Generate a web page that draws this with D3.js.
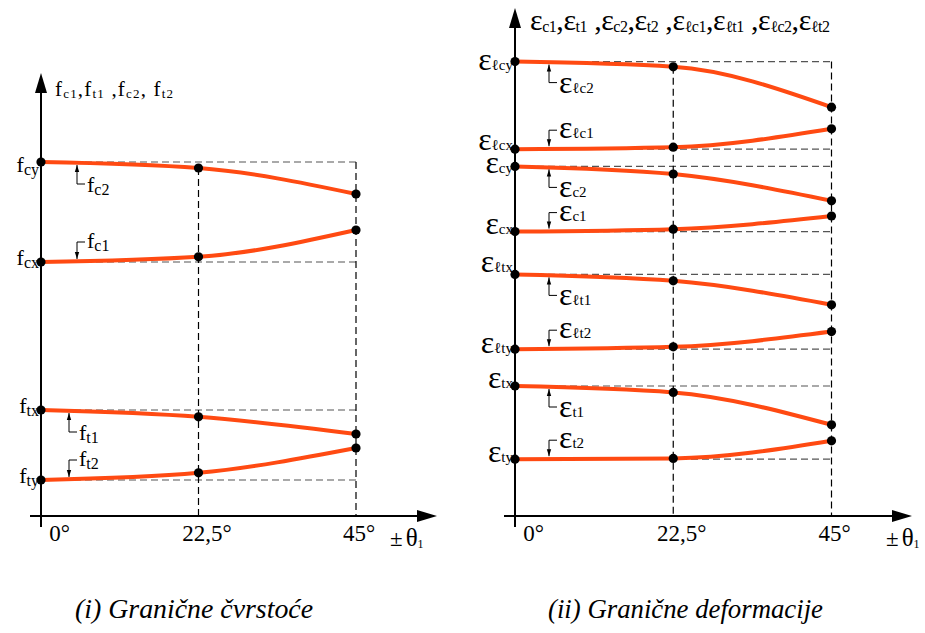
<!DOCTYPE html>
<html><head><meta charset="utf-8">
<script src="https://cdn.jsdelivr.net/npm/d3@7/dist/d3.min.js"></script>
<style>
body{margin:0;background:#fff}
svg{display:block}
</style>
</head><body>
<svg id="c" width="925" height="633" style="font-family:'Liberation Serif'"></svg>
<script>
// ---------- DATA (relative levels) ----------
const angles = [0, 22.5, 45];
const angleTickLabels = ["0°", "22,5°", "45°"];

// (i) limit strengths
const strengthNames = ["cy", "cx", "tx", "ty"];
const f_cy = [88.5, 87.0, 80.5];
const f_cx = [63.5, 64.8, 71.5];
const f_tx = [26.5, 24.8, 20.5];
const f_ty = [9.0, 10.8, 17.0];
const strengthCallouts = ["c2", "c1", "t1", "t2"];

// (ii) limit strains
const strainNames = ["ℓcy", "ℓcx", "cy", "cx", "ℓtx", "ℓty", "tx", "ty"];
const e_lcy = [113.6, 112.3, 102.2];
const e_lcx = [91.7, 92.2, 96.8];
const e_cy  = [87.4, 85.5, 78.8];
const e_cx  = [71.1, 71.7, 75.0];
const e_ltx = [60.4, 58.8, 52.8];
const e_lty = [41.7, 42.3, 46.1];
const e_tx  = [32.5, 30.9, 22.8];
const e_ty  = [14.2, 14.4, 18.8];
const strainCallouts = ["ℓc2", "ℓc1", "c2", "c1", "ℓt1", "ℓt2", "t1", "t2"];

const strengthSeries = strengthNames.map((n, i) => ({name: n, values: [f_cy, f_cx, f_tx, f_ty][i], callout: strengthCallouts[i]}));
const strainSeries = strainNames.map((n, i) => ({name: n, values: [e_lcy, e_lcx, e_cy, e_cx, e_ltx, e_lty, e_tx, e_ty][i], callout: strainCallouts[i]}));

// ---------- DRAWING ----------
const FONT = "'Liberation Serif', 'Times New Roman', Times, serif";
const svg = d3.select("#c");
const RED = "#ff4a12";
const y = d3.scaleLinear().domain([0, 120]).range([516, 36]);

function txt(g, x, yy) {
  return g.append("text").attr("x", x).attr("y", yy).style("font-family", FONT).style("fill", "#000");
}

function symText(g, x, yy, main, sub, o) {
  const t = txt(g, x, yy);
  if (o.anchor) t.attr("text-anchor", o.anchor);
  t.append("tspan").style("font-size", o.main + "px").text(main);
  t.append("tspan").style("font-size", o.sub + "px").attr("dy", o.subDy).text(sub);
  return t;
}

function drawChart(cfg) {
  const g = svg.append("g");
  const x = d3.scaleLinear().domain([0, 45]).range(cfg.xRange);
  const x0 = x(0), x22 = x(22.5), x45 = x(45), base = y(0);

  // horizontal dashed reference lines
  g.selectAll("line.h").data(cfg.series).join("line")
    .attr("x1", x0).attr("x2", x45)
    .attr("y1", d => y(d.values[0])).attr("y2", d => y(d.values[0]))
    .attr("stroke", "#555").attr("stroke-width", 1.2).attr("stroke-dasharray", "7,4");
  // vertical dashed lines
  g.append("line").attr("x1", x22).attr("x2", x22)
    .attr("y1", y(cfg.series[0].values[1])).attr("y2", base)
    .attr("stroke", "#000").attr("stroke-width", 1.2).attr("stroke-dasharray", "7,4");
  g.append("line").attr("x1", x45).attr("x2", x45)
    .attr("y1", y(cfg.series[0].values[0])).attr("y2", base)
    .attr("stroke", "#000").attr("stroke-width", 1.2).attr("stroke-dasharray", "7,4");

  // axes
  g.append("line").attr("x1", x0).attr("x2", x0).attr("y1", base + 11).attr("y2", cfg.yTip + 15)
    .attr("stroke", "#000").attr("stroke-width", 2);
  g.append("path").attr("d", `M${x0},${cfg.yTip}L${x0 - 6},${cfg.yTip + 20}L${x0 + 6},${cfg.yTip + 20}Z`).attr("fill", "#000");
  g.append("line").attr("x1", x0 - 11).attr("x2", cfg.xTip - 15).attr("y1", base).attr("y2", base)
    .attr("stroke", "#000").attr("stroke-width", 2);
  g.append("path").attr("d", `M${cfg.xTip},${base}L${cfg.xTip - 20},${base - 6}L${cfg.xTip - 20},${base + 6}Z`).attr("fill", "#000");

  // tick labels through d3 axis
  const ax = g.append("g").attr("transform", `translate(0,${base})`)
    .call(d3.axisBottom(x).tickValues(angles).tickFormat((d, i) => angleTickLabels[i]).tickSize(0).tickPadding(9));
  ax.select(".domain").remove();
  ax.attr("font-family", null).attr("font-size", null);
  const nudge = [18, 8, 2.5];
  ax.selectAll("text").style("font-size", "23px").style("font-family", FONT)
    .style("fill", "#000").attr("dx", (d, i) => nudge[i]);

  // ±θ1
  const th = txt(g, cfg.thetaX, 546);
  th.append("tspan").style("font-size", "23px").text("±");
  th.append("tspan").style("font-size", "25px").attr("dx", 3).text("θ");
  th.append("tspan").style("font-size", "12px").attr("dy", 2).text("1");

  // curves
  const line = d3.line().x((d, i) => x(angles[i])).y(d => y(d)).curve(d3.curveMonotoneX);
  g.selectAll("path.curve").data(cfg.series).join("path")
    .attr("d", d => line(d.values)).attr("fill", "none")
    .attr("stroke", RED).attr("stroke-width", 4).attr("stroke-linecap", "round");
  // dots
  cfg.series.forEach(s => {
    g.selectAll(null).data(s.values).join("circle")
      .attr("cx", (d, i) => x(angles[i])).attr("cy", d => y(d)).attr("r", 4.6).attr("fill", "#000");
  });

  // axis labels (left of axis)
  cfg.series.forEach((s, i) => {
    symText(g, x0 - 2, y(s.values[0]) + cfg.axisLabelDy[i], cfg.sym, s.name,
      {anchor: "end", main: cfg.symSize, sub: cfg.subSize, subDy: cfg.subShift});
  });

  // callouts
  cfg.series.forEach((s, i) => {
    const below = i % 2 === 0;
    const ax0 = x0 + cfg.calloutDx[i];
    const ly = y(s.values[0]);
    const tip = below ? ly + 3 : ly - 3;
    const bend = below ? ly + cfg.bendBelow : ly - cfg.bendAbove;
    g.append("path").attr("d", `M${ax0},${tip}L${ax0},${bend}L${ax0 + 8},${bend}`)
      .attr("fill", "none").attr("stroke", "#000").attr("stroke-width", 1);
    const dir = below ? 1 : -1;
    g.append("path").attr("d", `M${ax0},${tip}L${ax0 - 2.2},${tip + dir * 7}L${ax0 + 2.2},${tip + dir * 7}Z`).attr("fill", "#000");
    const lyText = below ? ly + cfg.labelBelow : ly - cfg.labelAbove;
    symText(g, ax0 + 10, lyText, cfg.sym, s.callout,
      {main: cfg.symSize, sub: cfg.subSize, subDy: cfg.subShift});
  });

  // top label
  const tl = txt(g, cfg.topX, cfg.topY).attr("textLength", cfg.topLen).attr("lengthAdjust", "spacing");
  cfg.topParts.forEach((p, k) => {
    tl.append("tspan").style("font-size", cfg.topMain + "px").attr("dy", k === 0 ? 0 : -cfg.topSubShift).text(p.pre + cfg.sym);
    tl.append("tspan").style("font-size", cfg.topSub + "px").attr("dy", cfg.topSubShift).text(p.sub);
  });

  // caption
  txt(g, cfg.capX, 618).style("font-size", "28px").style("font-style", "italic")
    .attr("textLength", cfg.capLen).attr("lengthAdjust", "spacingAndGlyphs").text(cfg.caption);
}

drawChart({
  series: strengthSeries, xRange: [41, 356], yTip: 73, xTip: 437, thetaX: 390,
  sym: "f", symSize: 22, subSize: 16, subShift: 3,
  axisLabelDy: [10, 3, 3, 3],
  calloutDx: [36, 36, 28, 28], bendBelow: 22, bendAbove: 20, labelBelow: 30, labelAbove: 14,
  topX: 55, topY: 96, topLen: 118, topMain: 21, topSub: 13, topSubShift: 2,
  topParts: [{pre: "", sub: "c1"}, {pre: ",", sub: "t1"}, {pre: " ,", sub: "c2"}, {pre: ", ", sub: "t2"}],
  capX: 75, capLen: 238, caption: "(i) Granične čvrstoće"
});

drawChart({
  series: strainSeries, xRange: [515, 831.5], yTip: 8, xTip: 912, thetaX: 886,
  sym: "ε", symSize: 32, subSize: 15, subShift: 0,
  axisLabelDy: [8, 1, 7, 2, -2, 4, 2, 3],
  calloutDx: [34, 34, 34, 34, 34, 34, 34, 34], bendBelow: 21, bendAbove: 19, labelBelow: 31, labelAbove: 11,
  topX: 530, topY: 30, topLen: 300, topMain: 30, topSub: 16, topSubShift: 2,
  topParts: [{pre: "", sub: "c1"}, {pre: ",", sub: "t1"}, {pre: " ,", sub: "c2"}, {pre: ",", sub: "t2"},
             {pre: " ,", sub: "ℓc1"}, {pre: ",", sub: "ℓt1"}, {pre: " ,", sub: "ℓc2"}, {pre: ",", sub: "ℓt2"}],
  capX: 548, capLen: 275, caption: "(ii) Granične deformacije"
});
</script>
</body></html>
